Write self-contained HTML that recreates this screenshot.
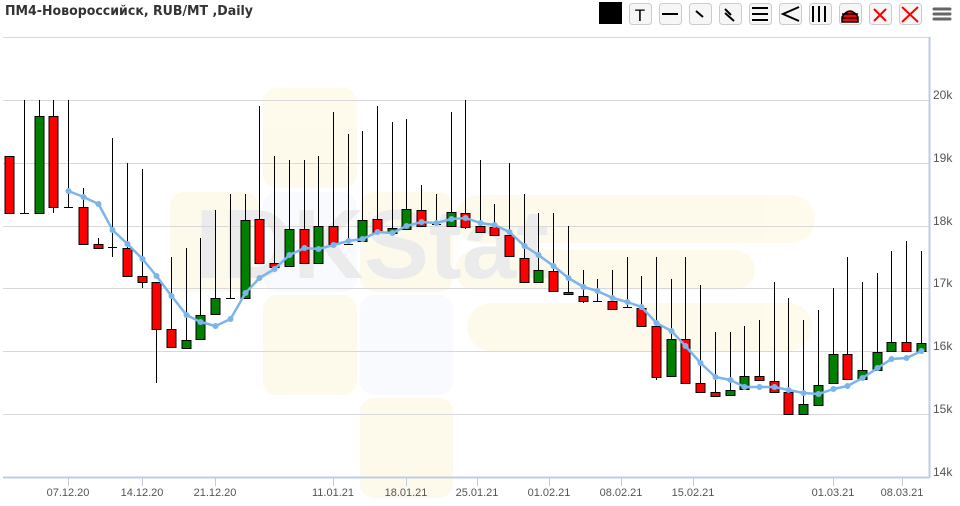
<!DOCTYPE html>
<html><head><meta charset="utf-8"><style>
body{margin:0;background:#fff;width:960px;height:506px;overflow:hidden;font-family:"Liberation Sans","DejaVu Sans",sans-serif}
</style></head><body>
<svg id="s" width="960" height="506" xmlns="http://www.w3.org/2000/svg" style="position:absolute;left:0;top:0">
<text x="5" y="15" font-family="DejaVu Sans, sans-serif" font-weight="bold" font-size="13" fill="#333" textLength="248" lengthAdjust="spacingAndGlyphs">ПМ4-Новороссийск, RUB/MT ,Daily</text>
<line x1="3" y1="37.5" x2="929" y2="37.5" stroke="#d8d8d8"/>
<g opacity="0.35">
<rect x="263" y="88" width="94" height="100" rx="14" fill="#fdf2c8"/>
<rect x="170" y="192" width="89" height="100" rx="14" fill="#fdf2c8"/>
<rect x="263" y="192" width="94" height="100" rx="14" fill="#eef1fa"/>
<rect x="360" y="192" width="93" height="100" rx="14" fill="#fdf2c8"/>
<rect x="263" y="295" width="94" height="100" rx="14" fill="#fdf2c8"/>
<rect x="360" y="295" width="93" height="100" rx="14" fill="#eef1fa"/>
<rect x="360" y="398" width="93" height="100" rx="14" fill="#fdf2c8"/>
<rect x="455" y="195" width="360" height="48" rx="24" fill="#fdf2c8"/>
<rect x="455" y="250" width="300" height="40" rx="20" fill="#fdf2c8"/>
<rect x="467" y="303" width="345" height="48" rx="24" fill="#fdf2c8"/>
<text x="195" y="278" font-family="Liberation Sans, sans-serif" font-weight="bold" font-size="98" fill="#c8c8c8">IDKStat</text>
</g>
<g id="grid"></g>
<g id="c"></g>
<g id="ma"></g>
<line x1="929.5" y1="37" x2="929.5" y2="478" stroke="#c0cde0" stroke-width="2"/>
<line x1="3" y1="477.5" x2="929" y2="477.5" stroke="#c0cde0" stroke-width="2"/>
<g id="xl" font-size="11" fill="#555" text-anchor="middle"></g>
<g id="yl" font-size="12" fill="#555"></g>
<g id="tb"></g>
</svg>
<script>
var NS="http://www.w3.org/2000/svg";
function el(p,t,a,txt){var e=document.createElementNS(NS,t);for(var k in a)e.setAttribute(k,a[k]);if(txt)e.textContent=txt;document.getElementById(p).appendChild(e);return e;}
var ys=[[100,"20k"],[163,"19k"],[226,"18k"],[288,"17k"],[351,"16k"],[414,"15k"],[477,"14k"]];
ys.forEach(function(g){if(g[0]<477)el("grid","line",{x1:3,x2:929,y1:g[0]+.5,y2:g[0]+.5,stroke:"#d8d8d8"});el("yl","text",{x:933,y:g[0]-1},g[1]);});
var C=[[9,"r",156,213,156,213],[24,"d",213,213,100,213],[39,"g",116,213,100,213],[53,"r",116,207,100,213],[68,"d",207,207,100,207],
[83,"r",207,244,188,244],[98,"r",244,248,238,248],[112,"d",247,247,138,257],[127,"r",248,276,163,276],[142,"r",276,282,169,288],
[156,"r",282,329,282,383],[171,"r",329,347,257,347],[186,"g",340,348,248,348],[200,"g",315,339,238,339],[215,"g",298,314,210,314],
[230,"d",298,298,194,298],[245,"g",220,298,194,298],[259,"r",219,263,106,263],[274,"r",263,267,156,267],[289,"g",229,266,160,266],
[304,"r",229,263,160,263],[318,"g",226,263,156,263],[333,"r",226,244,112,244],[348,"d",244,244,134,244],[362,"g",220,241,131,241],
[377,"r",219,232,106,232],[392,"g",228,233,122,233],[406,"g",209,229,119,229],[421,"r",210,226,185,226],[436,"d",224,224,194,224],
[451,"g",212,226,112,226],[465,"r",213,227,100,229],[480,"r",226,232,160,232],[494,"r",227,235,204,235],[509,"r",235,256,163,256],
[524,"r",258,282,194,282],[538,"g",270,282,213,282],[553,"r",271,291,213,291],[568,"r",292,294,226,294],[583,"r",296,301,270,303],
[597,"d",301,301,279,301],[612,"r",301,309,270,310],[627,"d",307,307,257,307],[641,"r",308,326,276,326],[656,"r",326,377,257,380],
[671,"g",339,376,279,376],[685,"r",339,383,257,383],[700,"r",383,392,285,392],[715,"r",392,396,332,397],[730,"g",390,395,332,395],
[744,"g",376,389,326,389],[759,"r",376,380,320,380],[774,"r",381,392,282,392],[788,"r",392,414,298,414],[803,"g",404,414,320,414],
[818,"g",385,405,310,405],[833,"g",354,383,288,383],[847,"r",354,379,257,379],[862,"g",370,379,282,379],[877,"g",352,370,273,370],
[891,"g",342,351,251,351],[906,"r",342,351,241,351],[921,"g",343,351,251,351]];
C.forEach(function(c){
 el("c","line",{x1:c[0]+.5,x2:c[0]+.5,y1:c[4],y2:c[5],stroke:"#000"});
 if(c[1]=="d"){el("c","line",{x1:c[0]-4,x2:c[0]+5,y1:c[2]+.5,y2:c[2]+.5,stroke:"#000"});}
 else{var h=Math.max(c[3]-c[2],2);el("c","rect",{x:c[0]-4,y:c[2]+.5,width:9,height:h,fill:c[1]=="r"?"#ff0000":"#008000",stroke:"#000"});}
});
var M=[191,197,204,230,244,259,276,296,315,322,326,319,293,278,269,255,248,249,245,241,239,232,233,226,222,223,219,218,223,
225,232,246,255,266,278,287,291,298,302,307,323,331,346,363,377,380,387,387,387,390,393,394,389,386,378,368,359,358,351];
var pts=[];for(var i=0;i<M.length;i++){pts.push([C[i+4][0]+.5,M[i]]);}
el("ma","polyline",{points:pts.map(function(p){return p.join(",")}).join(" "),fill:"none",stroke:"#7cb5ec","stroke-width":2.5,"stroke-linejoin":"round"});
pts.forEach(function(p){el("ma","circle",{cx:p[0],cy:p[1],r:3,fill:"#7cb5ec"});});
[[68,"07.12.20"],[142,"14.12.20"],[215,"21.12.20"],[333,"11.01.21"],[406,"18.01.21"],[477,"25.01.21"],[549,"01.02.21"],[621,"08.02.21"],[693,"15.02.21"],[833,"01.03.21"],[902,"08.03.21"]].forEach(function(l){
 el("xl","line",{x1:l[0]+.5,x2:l[0]+.5,y1:478,y2:486,stroke:"#c0cde0"});
 el("xl","text",{x:l[0],y:496},l[1]);
});
el("tb","rect",{x:599,y:2,width:23,height:22,fill:"#000"});
var bx=[629,659,689,719,749,779,809,839,869,899];
bx.forEach(function(x){el("tb","rect",{x:x+.5,y:3.5,width:22,height:21,rx:3,fill:"#f6f6f6",stroke:"#ccc"});});
el("tb","text",{x:640,y:21,"font-size":17,"text-anchor":"middle",fill:"#000"},"T");
el("tb","line",{x1:662,x2:678,y1:14,y2:14,stroke:"#000","stroke-width":2});
el("tb","line",{x1:696,x2:703,y1:11,y2:17,stroke:"#000","stroke-width":2});
el("tb","line",{x1:725,x2:731,y1:9,y2:15,stroke:"#000","stroke-width":2});
el("tb","line",{x1:725,x2:734,y1:13,y2:21,stroke:"#000","stroke-width":2});
[8,14,20].forEach(function(y){el("tb","line",{x1:752,x2:768,y1:y,y2:y,stroke:"#000","stroke-width":2});});
el("tb","polyline",{points:"799,7 783,14 799,21",fill:"none",stroke:"#000","stroke-width":2});
[813,819,825].forEach(function(x){el("tb","line",{x1:x,x2:x,y1:6,y2:22,stroke:"#000","stroke-width":2});});
el("tb","path",{d:"M842 22 L842 17 Q850 5 858 17 L858 22 Z",fill:"#ff0000",stroke:"#000","stroke-width":1.5});
el("tb","line",{x1:842,x2:858,y1:14,y2:14,stroke:"#000","stroke-width":1.5});
el("tb","line",{x1:842,x2:858,y1:18,y2:18,stroke:"#000","stroke-width":1.5});
el("tb","path",{d:"M874 9 L886 21 M886 9 L874 21",stroke:"#ff0000","stroke-width":2});
el("tb","path",{d:"M902 7 L918 22 M918 7 L902 22",stroke:"#ff0000","stroke-width":2});
[9,14,19].forEach(function(y){el("tb","line",{x1:934,x2:950,y1:y,y2:y,stroke:"#666","stroke-width":3,"stroke-linecap":"round"});});
</script>
</body></html>
